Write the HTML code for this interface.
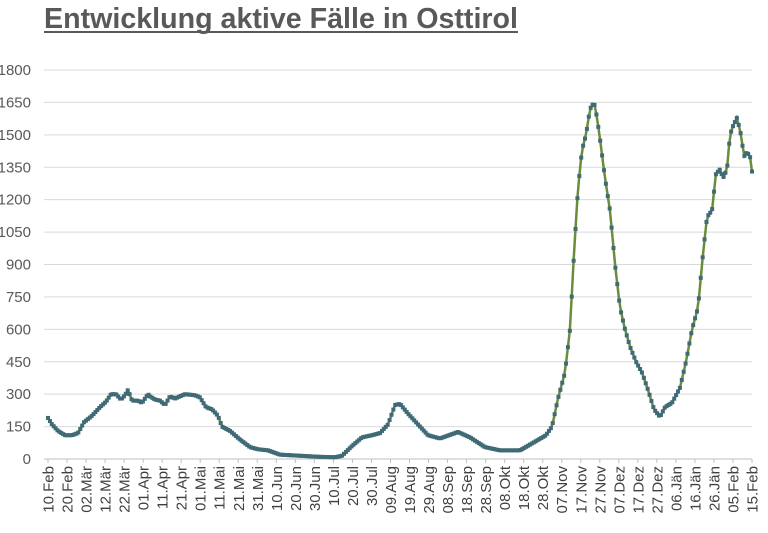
<!DOCTYPE html><html><head><meta charset="utf-8"><style>
body{margin:0;width:768px;height:528px;background:#fff;overflow:hidden;font-family:"Liberation Sans",sans-serif}
</style></head><body>
<svg id="s" width="768" height="528" xmlns="http://www.w3.org/2000/svg" font-family="Liberation Sans, sans-serif">
<text x="44" y="28" font-size="28.5" font-weight="bold" fill="#595959" textLength="474" lengthAdjust="spacingAndGlyphs">Entwicklung aktive Fälle in Osttirol</text>
<line x1="44" y1="32" x2="518" y2="32" stroke="#595959" stroke-width="2"/>
<g id="grid"></g><g id="lab"></g>
<polyline id="ln" fill="none" stroke="#6b8c3a" stroke-width="2.5"/>
<g id="mk" fill="#3f6a76"></g>
</svg>
<script>
var NS="http://www.w3.org/2000/svg",g=document.getElementById('grid'),lab=document.getElementById('lab');
function Y(v){return 459-v*389/1800}
for(var v=0;v<=1800;v+=150){var l=document.createElementNS(NS,'line');l.setAttribute('x1',44);l.setAttribute('x2',752);l.setAttribute('y1',Y(v));l.setAttribute('y2',Y(v));l.setAttribute('stroke',v?'#d9d9d9':'#bfbfbf');g.appendChild(l);
var t=document.createElementNS(NS,'text');t.setAttribute('x',31);t.setAttribute('y',Y(v)+5);t.setAttribute('text-anchor','end');t.setAttribute('font-size','15');t.setAttribute('fill','#595959');t.textContent=v;lab.appendChild(t);}
var d="10.Feb,20.Feb,02.Mär,12.Mär,22.Mär,01.Apr,11.Apr,21.Apr,01.Mai,11.Mai,21.Mai,31.Mai,10.Jun,20.Jun,30.Jun,10.Jul,20.Jul,30.Jul,09.Aug,19.Aug,29.Aug,08.Sep,18.Sep,28.Sep,08.Okt,18.Okt,28.Okt,07.Nov,17.Nov,27.Nov,07.Dez,17.Dez,27.Dez,06.Jän,16.Jän,26.Jän,05.Feb,15.Feb".split(",");
d.forEach(function(s,i){var x=48+i*704/37;var t=document.createElementNS(NS,'text');t.setAttribute('transform','translate('+(x+5.5)+',466) rotate(-90)');t.setAttribute('text-anchor','end');t.setAttribute('font-size','15');t.setAttribute('fill','#404040');t.textContent=s;lab.appendChild(t);
var k=document.createElementNS(NS,'line');k.setAttribute('x1',x);k.setAttribute('x2',x);k.setAttribute('y1',459);k.setAttribute('y2',463);k.setAttribute('stroke','#bfbfbf');lab.appendChild(k);});
var P=[48,190,52,160,58,130,65,110,72,110,78,120,84,170,92,200,100,240,106,265,111,300,116,300,121,275,125,295,128,320,132,270,138,270,142,260,148,300,150,290,155,275,160,270,165,250,170,290,175,280,180,290,185,300,195,295,200,285,206,240,212,230,218,200,222,150,230,130,240,90,250,55,258,45,268,40,280,20,300,15,320,10,335,8,342,15,352,60,362,100,372,110,380,120,388,160,395,250,400,255,408,210,418,160,428,110,440,95,458,125,470,100,485,55,500,40,520,40,535,80,546,110,552,150,558,280,565,400,570,600,574,950,578,1250,582,1430,586,1500,590,1620,594,1650,597,1580,600,1480,605,1300,610,1150,615,900,620,700,625,600,630,520,636,450,642,400,648,320,654,230,660,195,665,240,672,260,680,330,686,450,692,600,698,700,703,950,707,1120,712,1150,716,1320,720,1340,723,1300,727,1340,730,1500,733,1540,737,1580,741,1500,744,1400,747,1420,750,1400,752,1330];
function val(x){for(var i=0;i<P.length-2;i+=2){if(x<=P[i+2]){var f=(x-P[i])/(P[i+2]-P[i]);return P[i+1]+f*(P[i+3]-P[i+1]);}}return P[P.length-1];}
var pts=[],mk=document.getElementById('mk');
for(var i=0;i<=371;i++){var x=48+i*704/371,y=Y(val(x));pts.push(x.toFixed(1)+','+y.toFixed(1));
var r=document.createElementNS(NS,'rect');r.setAttribute('x',x-2);r.setAttribute('y',y-2);r.setAttribute('width',4);r.setAttribute('height',4);mk.appendChild(r);}
document.getElementById('ln').setAttribute('points',pts.join(' '));
</script>
</body></html>
